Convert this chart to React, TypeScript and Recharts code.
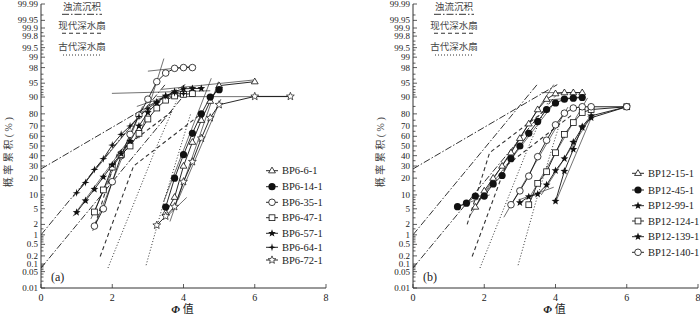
import React from 'react';
import { ComposedChart, Line, XAxis, YAxis } from 'recharts';

const FONT = '"Liberation Serif", "Times New Roman", serif';
const CJK = '"Liberation Serif", "Noto Sans CJK SC", serif';

// probability axis labels (percent)
const majorPct = [0.01, 0.05, 0.1, 0.2, 0.5, 1, 2, 5, 10, 20, 30, 40, 50, 60, 70, 80, 90, 95, 98, 99, 99.5, 99.8, 99.9, 99.95, 99.99];
const minorPct = [0.02, 0.03, 0.04, 0.06, 0.07, 0.08, 0.09, 0.3, 0.4, 0.6, 0.7, 0.8, 0.9, 1.5, 3, 4, 6, 7, 8, 9, 12, 15, 25, 35, 45, 55, 65, 75, 85, 91, 92, 93, 94, 96, 97, 98.5, 99.2, 99.4, 99.6, 99.7, 99.85, 99.97];
const xMajor = [0, 2, 4, 6, 8];

// panel (a) samples: [phi, cumulative %]
const bp6_6_1 = [[3.5, 4], [3.75, 9], [4, 30], [4.25, 54], [4.5, 75], [4.75, 88], [5, 94.3], [6, 95.4]];
const bp6_14_1 = [[3.5, 5.5], [3.75, 20], [4, 41], [4.25, 63], [4.5, 80], [4.75, 90], [5, 93]];
const bp6_35_1 = [[1.5, 1.8], [1.75, 5], [2, 17.5], [2.25, 40], [2.5, 62], [2.75, 79], [3, 89], [3.25, 95.4], [3.5, 97.2], [3.75, 97.9], [4, 98], [4.25, 98]];
const bp6_47_1 = [[1.5, 4.2], [1.75, 12.5], [2, 29], [2.25, 41], [2.5, 50], [2.75, 63], [3, 76], [3.25, 84], [3.5, 88.5], [3.75, 90.5], [4, 91.2], [4.25, 91.5]];
const bp6_57_1 = [[1, 4.1], [1.25, 7.6], [1.5, 12.9], [1.75, 20.8], [2, 31], [2.25, 42], [2.5, 55], [2.75, 70], [3, 81], [3.25, 87], [3.5, 90.5], [3.75, 92.3], [4, 93.3], [4.25, 93.4], [4.5, 93.4]];
const bp6_64_1 = [[1, 11], [1.25, 17], [1.5, 27], [1.75, 37], [2, 51], [2.25, 62], [2.5, 70], [2.75, 78], [3, 83.5], [3.25, 87.7], [3.5, 90.5], [3.75, 91.8], [4, 91.5]];
const bp6_72_1 = [[3.25, 1.9], [3.5, 3.3], [3.75, 5.6], [4, 17.5], [4.25, 34], [4.5, 58], [4.75, 77], [5, 86], [6, 90.3], [7, 90.3]];

// panel (b) samples
const bp12_15_1 = [[1.75, 5.5], [2, 12], [2.25, 20], [2.5, 30], [2.75, 43], [3, 58], [3.25, 72], [3.5, 83], [3.75, 89], [4, 91.5], [4.25, 91.9], [4.5, 91.9], [4.75, 91.9]];
const bp12_45_1 = [[1.25, 5.6], [1.5, 6.7], [1.75, 9.5], [2, 9.5], [2.25, 16], [2.5, 22], [2.75, 37], [3, 50], [3.25, 63], [3.5, 74], [3.75, 83], [4, 87], [4.25, 89], [4.5, 89.5], [4.75, 89.8]];
const bp12_99_1 = [[3, 6.9], [3.25, 9.2], [3.5, 10.4], [3.75, 15.4], [4, 26], [4.25, 37], [4.5, 54], [4.75, 68.5], [5, 77], [6, 84.8]];
const bp12_124_1 = [[3.25, 6.2], [3.5, 16.4], [3.75, 25], [4, 43], [4.25, 62], [4.5, 73], [4.75, 81], [5, 83], [6, 84.8]];
const bp12_139_1 = [[4, 7.4], [4.25, 25.5], [4.5, 46.5], [4.75, 69.5], [5, 78.5], [6, 84.8]];
const bp12_140_1 = [[2.75, 6.2], [3, 12], [3.25, 21.5], [3.5, 39], [3.75, 56], [4, 71], [4.25, 80.5], [4.5, 84], [4.75, 84.8], [5, 84.8], [6, 84.8]];

// fitted population segments
const fitsA = [
  [[3.0, 97.5], [4.35, 98.2]],
  [[2.75, 58], [3.45, 98.9]],
  [[2.69, 85], [3.86, 92]],
  [[3.39, 93.1], [5.96, 95.8]],
  [[3.25, 90.2], [7.0, 90.2]],
  [[3.44, 7.2], [4.78, 96.2]],
  [[3.62, 2.4], [4.98, 95.4]],
  [[3.85, 8], [5.05, 89]],
  [[3.48, 2.9], [4.09, 8.9]],
  [[0.9, 9], [2.9, 82.6]],
  [[0.9, 3.3], [2.5, 58]],
  [[1.4, 2.8], [2.1, 33]],
  [[1.45, 1.3], [2.85, 85]],
  [[1.99, 91.6], [4.75, 92.6]],
];
const fitsB = [
  [[3.6, 91.9], [4.8, 91.9]],
  [[3.75, 88.5], [4.83, 90.2]],
  [[1.85, 7.5], [4.05, 89]],
  [[1.6, 3.4], [3.95, 94.6]],
  [[1.15, 5.2], [2.15, 10]],
  [[2.55, 3.1], [4.35, 84.6]],
  [[3.3, 9.7], [4.9, 89.6]],
  [[2.95, 7.8], [3.95, 14]],
  [[3.6, 10], [5.05, 80]],
  [[4.0, 7], [5.05, 80]],
];

// reference envelopes
const turbidite = [
  [[0, 27.4], [4.05, 94.6]],
  [[0, 1], [3.5, 94.8]],
  [[0, 0.07], [4.0, 90.5]],
];
const modernFan = [
  [[1.52, 2], [2.15, 43], [3.67, 81.6]],
  [[1.66, 0.19], [2.6, 30], [4.5, 80]],
];
const ancientFan = [
  [[1.88, 0.07], [3.23, 48], [3.8, 88]],
  [[2.95, 0.09], [3.48, 8.7], [4.2, 80]],
];

function probit(p: number): number {
  const a = [-39.69683028665376, 220.9460984245205, -275.9285104469687, 138.357751867269, -30.66479806614716, 2.506628277459239];
  const b = [-54.47609879822406, 161.5858368580409, -155.6989798598866, 66.80131188771972, -13.28068155288572];
  const c = [-0.007784894002430293, -0.3223964580411365, -2.400758277161838, -2.549732539343734, 4.374664141464968, 2.938163982698783];
  const d = [0.007784695709041462, 0.3224671290700398, 2.445134137142996, 3.754408661907416];
  const pl = 0.02425;
  if (p < pl) {
    const q = Math.sqrt(-2 * Math.log(p));
    return (((((c[0] * q + c[1]) * q + c[2]) * q + c[3]) * q + c[4]) * q + c[5]) / ((((d[0] * q + d[1]) * q + d[2]) * q + d[3]) * q + 1);
  }
  if (p > 1 - pl) {
    const q = Math.sqrt(-2 * Math.log(1 - p));
    return -(((((c[0] * q + c[1]) * q + c[2]) * q + c[3]) * q + c[4]) * q + c[5]) / ((((d[0] * q + d[1]) * q + d[2]) * q + d[3]) * q + 1);
  }
  const q = p - 0.5;
  const r = q * q;
  return ((((((a[0] * r + a[1]) * r + a[2]) * r + a[3]) * r + a[4]) * r + a[5]) * q) / (((((b[0] * r + b[1]) * r + b[2]) * r + b[3]) * r + b[4]) * r + 1);
}

const zOf = (pct: number) => probit(pct / 100);
const toPts = (arr: number[][]) => arr.map(([x, p]) => ({ x, y: zOf(p) }));
const Z_MIN = zOf(0.01);
const Z_MAX = zOf(99.99);

const labelMap = new Map<string, string>();
majorPct.forEach(p => labelMap.set(zOf(p).toFixed(5), String(p)));
const yTicks = [...majorPct, ...minorPct].map(zOf).sort((u, v) => u - v);

function starPath(cx: number, cy: number, ro: number, ri: number, n: number) {
  let d = '';
  for (let i = 0; i < n * 2; i++) {
    const r = i % 2 === 0 ? ro : ri;
    const ang = -Math.PI / 2 + (i * Math.PI) / n;
    d += (i === 0 ? 'M' : 'L') + (cx + r * Math.cos(ang)).toFixed(2) + ',' + (cy + r * Math.sin(ang)).toFixed(2);
  }
  return d + 'Z';
}

const Marker = ({ cx, cy, kind }: { cx: number; cy: number; kind: string }) => {
  const s = '#111';
  if (kind === 'tri') {
    const r = 3.6;
    return <polygon points={`${cx},${cy - r} ${cx + r * 0.95},${cy + r * 0.6} ${cx - r * 0.95},${cy + r * 0.6}`} fill="#fff" stroke={s} strokeWidth={0.8} />;
  }
  if (kind === 'dot') return <circle cx={cx} cy={cy} r={3.6} fill="#111" />;
  if (kind === 'circle') return <circle cx={cx} cy={cy} r={3.3} fill="#fff" stroke={s} strokeWidth={0.8} />;
  if (kind === 'square') return <rect x={cx - 2.9} y={cy - 2.9} width={5.8} height={5.8} fill="#fff" stroke={s} strokeWidth={0.8} />;
  if (kind === 'star') return <path d={starPath(cx, cy, 4.1, 1.7, 5)} fill="#111" />;
  if (kind === 'star4') return <path d={starPath(cx, cy, 4.0, 1.2, 4)} fill="#111" />;
  return <path d={starPath(cx, cy, 4.1, 1.8, 5)} fill="#fff" stroke={s} strokeWidth={0.7} />;
};

const seriesA = [
  { name: 'BP6-6-1', data: bp6_6_1, kind: 'tri' },
  { name: 'BP6-14-1', data: bp6_14_1, kind: 'dot' },
  { name: 'BP6-35-1', data: bp6_35_1, kind: 'circle' },
  { name: 'BP6-47-1', data: bp6_47_1, kind: 'square' },
  { name: 'BP6-57-1', data: bp6_57_1, kind: 'star' },
  { name: 'BP6-64-1', data: bp6_64_1, kind: 'star4' },
  { name: 'BP6-72-1', data: bp6_72_1, kind: 'starOpen' },
];
const seriesB = [
  { name: 'BP12-15-1', data: bp12_15_1, kind: 'tri' },
  { name: 'BP12-45-1', data: bp12_45_1, kind: 'dot' },
  { name: 'BP12-99-1', data: bp12_99_1, kind: 'star' },
  { name: 'BP12-124-1', data: bp12_124_1, kind: 'square' },
  { name: 'BP12-139-1', data: bp12_139_1, kind: 'star' },
  { name: 'BP12-140-1', data: bp12_140_1, kind: 'circle' },
];

const PLOT_TOP = 4;
const PLOT_BOTTOM = 288;
const Y_AXIS_W = 36;

interface PanelProps {
  tag: string;
  series: { name: string; data: number[][]; kind: string }[];
  fits: number[][][];
  marginLeft: number;
  marginRight: number;
  legendRows: number[];
  legendX: number;
}

const Panel = ({ tag, series, fits, marginLeft, marginRight, legendRows, legendX }: PanelProps) => {
  const axisX = marginLeft + Y_AXIS_W;
  const plotRight = 350 - marginRight;
  const yTick = (props: any) => {
    const { y, payload } = props;
    const label = labelMap.get(Number(payload.value).toFixed(5));
    return (
      <g>
        <line x1={axisX} x2={axisX + (label ? 4 : 2.5)} y1={y} y2={y} stroke="#333" strokeWidth={0.8} />
        {label && (
          <text x={axisX - 3} y={y} dy={3} textAnchor="end" fontSize={9} fontFamily={FONT} fill="#222">{label}</text>
        )}
      </g>
    );
  };
  const xTick = (props: any) => {
    const { x, payload } = props;
    return (
      <g>
        <line x1={x} x2={x} y1={PLOT_BOTTOM} y2={PLOT_BOTTOM - 4} stroke="#333" strokeWidth={0.8} />
        <text x={x} y={PLOT_BOTTOM + 13} textAnchor="middle" fontSize={10} fontFamily={FONT} fill="#222">{payload.value}</text>
      </g>
    );
  };
  const refLine = (pts: number[][], key: string, dash: string, width = 1) => (
    <Line key={key} data={toPts(pts)} dataKey="y" type="linear" stroke="#333" strokeWidth={width}
      strokeDasharray={dash} dot={false} activeDot={false} isAnimationActive={false} />
  );
  const midX = (axisX + plotRight) / 2;
  const legX = axisX + 41;
  return (
    <div style={{ position: 'relative', width: 350, height: 317 }}>
      <ComposedChart width={350} height={317} margin={{ top: PLOT_TOP, right: marginRight, bottom: 0, left: marginLeft }}>
        <XAxis dataKey="x" type="number" domain={[0, 8]} ticks={xMajor} allowDataOverflow
          axisLine={{ stroke: '#333' }} tickLine={false} tick={xTick} height={317 - PLOT_BOTTOM} interval={0} />
        <YAxis type="number" domain={[Z_MIN, Z_MAX]} ticks={yTicks} allowDataOverflow width={Y_AXIS_W}
          axisLine={{ stroke: '#333' }} tickLine={false} tick={yTick} interval={0} />
        {turbidite.map((l, i) => refLine(l, `t${i}`, '7 2 1.5 2'))}
        {modernFan.map((l, i) => refLine(l, `m${i}`, '4 3', 1.1))}
        {ancientFan.map((l, i) => refLine(l, `a${i}`, '1 2'))}
        {fits.map((l, i) => refLine(l, `f${i}`, '', 0.7))}
        {series.map(s => (
          <Line key={s.name} data={toPts(s.data)} dataKey="y" type="linear" stroke="#111" strokeWidth={0.9}
            isAnimationActive={false} activeDot={false}
            dot={(p: any) => <Marker key={`${s.name}-${p.index}`} cx={p.cx} cy={p.cy} kind={s.kind} />} />
        ))}
      </ComposedChart>
      <svg width={350} height={317} style={{ position: 'absolute', left: 0, top: 0, pointerEvents: 'none' }}>
        <text x={legX} y={9.5} textAnchor="middle" fontSize={9.5} fontFamily={CJK} fill="#444">浊流沉积</text>
        <line x1={legX - 20} x2={legX + 20} y1={14.3} y2={14.3} stroke="#333" strokeDasharray="7 2 1.5 2" />
        <text x={legX} y={29} textAnchor="middle" fontSize={9.5} fontFamily={CJK} fill="#444">现代深水扇</text>
        <line x1={legX - 20} x2={legX + 20} y1={33.3} y2={33.3} stroke="#333" strokeDasharray="4 3" strokeWidth={1.1} />
        <text x={legX} y={50} textAnchor="middle" fontSize={9.5} fontFamily={CJK} fill="#444">古代深水扇</text>
        <line x1={legX - 19} x2={legX + 19} y1={55} y2={55} stroke="#333" strokeDasharray="1 2" />
        {series.map((s, i) => (
          <g key={s.name}>
            <line x1={legendX} x2={legendX + 12} y1={legendRows[i]} y2={legendRows[i]} stroke="#111" strokeWidth={0.9} />
            <Marker cx={legendX + 6} cy={legendRows[i]} kind={s.kind} />
            <text x={legendX + 16} y={legendRows[i] + 3.6} fontSize={10.5} fontFamily={FONT} fill="#222">{s.name}</text>
          </g>
        ))}
        <text x={axisX + 10} y={281} fontSize={12} fontFamily={FONT} fill="#222">{tag}</text>
        <text transform={`translate(${axisX - 29},151) rotate(-90)`} textAnchor="middle" fontSize={10}
          fontFamily={CJK} fill="#444" letterSpacing={2.5}>概率累积(%)</text>
        <text x={midX - 1} y={313} textAnchor="middle" fontSize={11} fontFamily={CJK} fill="#222">
          <tspan fontStyle="italic" fontWeight="bold" fontFamily={FONT}>Φ</tspan> 值
        </text>
      </svg>
    </div>
  );
};

export default function App() {
  return (
    <div style={{ position: 'absolute', left: 0, top: 0, width: 700, height: 317, background: '#fff', display: 'flex' }}>
      <Panel tag="(a)" series={seriesA} fits={fitsA} marginLeft={5} marginRight={24}
        legendRows={[170.7, 186.7, 202.3, 217.7, 233.3, 247.3, 260]} legendX={266} />
      <Panel tag="(b)" series={seriesB} fits={fitsB} marginLeft={27} marginRight={2}
        legendRows={[173.3, 190, 205.7, 221, 236.7, 252.3]} legendX={282} />
    </div>
  );
}
